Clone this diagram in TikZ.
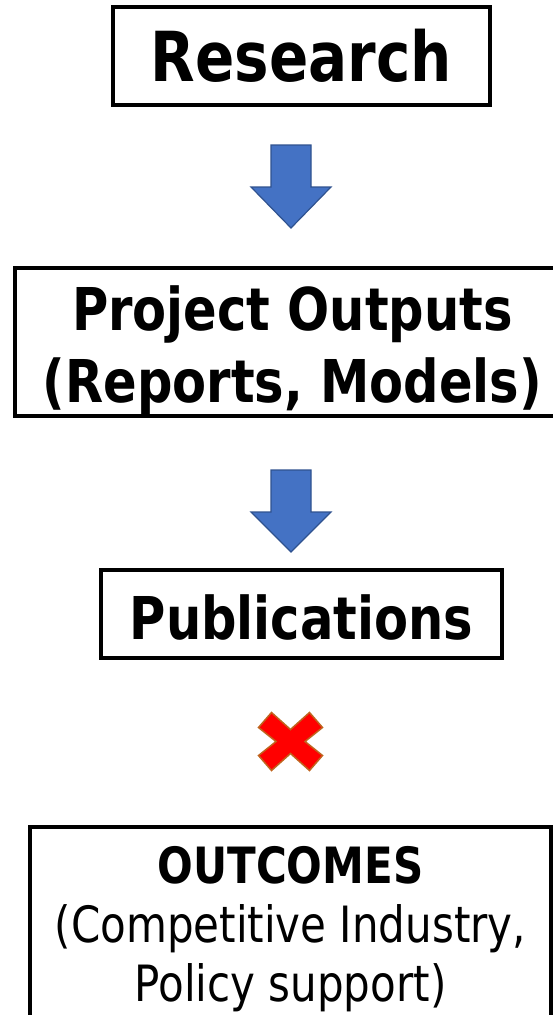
\documentclass[tikz,border=0pt]{standalone}
\usepackage{fontspec}
\setmainfont{DejaVu Sans}[FakeStretch=0.84]
\usepackage{tikz}
\usetikzlibrary{calc}
\definecolor{arrowblue}{HTML}{4472C4}
\definecolor{arrowedge}{HTML}{2F528F}
\definecolor{crossedge}{HTML}{C0641E}

\begin{document}
\begin{tikzpicture} [x=1pt,y=-1pt,{box/.style={rectangle,draw=black,line width=4.5pt,inner sep=0pt,align=center}},{blockarrow/.style={fill=arrowblue,draw=arrowedge,line width=1.2pt,line join=miter}},{nocross/.style={fill=red,draw=crossedge,line width=1.5pt,line join=miter}}]
		\useasboundingbox (0,0) rectangle (553,1015);
		%%boxes
		\node at (301.5,56) [box,minimum width=377pt,minimum height=98pt,font=\bfseries\fontsize{69}{83}\selectfont] (res) {Research};
		\node at (292.5,342) [box,minimum width=555pt,minimum height=148pt,font=\bfseries\fontsize{59}{72}\selectfont] (pout) {\rule{0pt}{60.3pt}Project Outputs\\(Reports, Models)};
		\node at (301.5,614) [box,minimum width=401pt,minimum height=88pt,font=\bfseries\fontsize{59}{72}\selectfont] (pub) {\rule{0pt}{52pt}Publications};
		\node at (290.5,929) [box,minimum width=521pt,minimum height=204pt,font=\fontsize{50}{59}\selectfont] (outc) {\textbf{OUTCOMES}\\(Competitive Industry,\\Policy support)};
		
		%% block arrows
		\coordinate (a1) at (291,145);
		\coordinate (a2) at (291,470);
		\draw [blockarrow] ($(a1)+(-20,0)$) -- ++(40,0) -- ++(0,42) -- ++(20,0) -- ++(-40,41) -- ++(-40,-41) -- ++(20,0) -- cycle;
		\draw [blockarrow] ($(a2)+(-20,0)$) -- ++(40,0) -- ++(0,42) -- ++(20,0) -- ++(-40,40) -- ++(-40,-40) -- ++(20,0) -- cycle;
		
		%% broken link
		\coordinate (x) at (290.5,741.5);
		\draw [nocross] ($(x)+(-32,-14)$) -- ($(x)+(-19,-29)$) -- ($(x)+(0,-12)$) -- ($(x)+(19,-29)$) -- ($(x)+(32,-14)$) -- ($(x)+(14.5,0)$) -- ($(x)+(32,14)$) -- ($(x)+(19,29)$) -- ($(x)+(0,12)$) -- ($(x)+(-19,29)$) -- ($(x)+(-32,14)$) -- ($(x)+(-14.5,0)$) -- cycle;
		
	\end{tikzpicture}
\end{document}
